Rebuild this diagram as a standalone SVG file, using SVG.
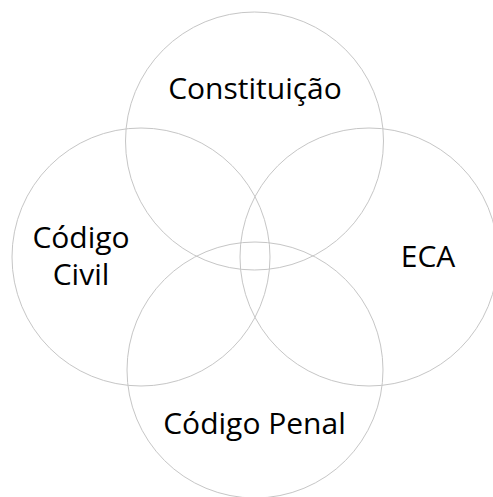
<svg xmlns="http://www.w3.org/2000/svg" width="493" height="497" viewBox="0 0 493 497">
<style>
.c{fill:none;stroke:#c6c6c6;stroke-width:1}
.t{font-family:"Open Sans","Noto Sans",sans-serif;font-size:30px;fill:#000;text-anchor:middle}
</style>
<rect width="493" height="497" fill="#fff"/>
<g id="constituicao"><circle class="c" cx="254.5" cy="141" r="129"/><text class="t" x="255" y="99">Constituição</text></g>
<g id="codigo-civil"><circle class="c" cx="141" cy="257" r="129"/><text class="t" x="81" y="248">Código</text><text class="t" x="81" y="285">Civil</text></g>
<g id="eca"><circle class="c" cx="369" cy="257" r="129"/><text class="t" x="428" y="267">ECA</text></g>
<g id="codigo-penal"><circle class="c" cx="255" cy="370" r="128"/><text class="t" x="254.5" y="434">Código Penal</text></g>
<g id="connectors"/>
</svg>
